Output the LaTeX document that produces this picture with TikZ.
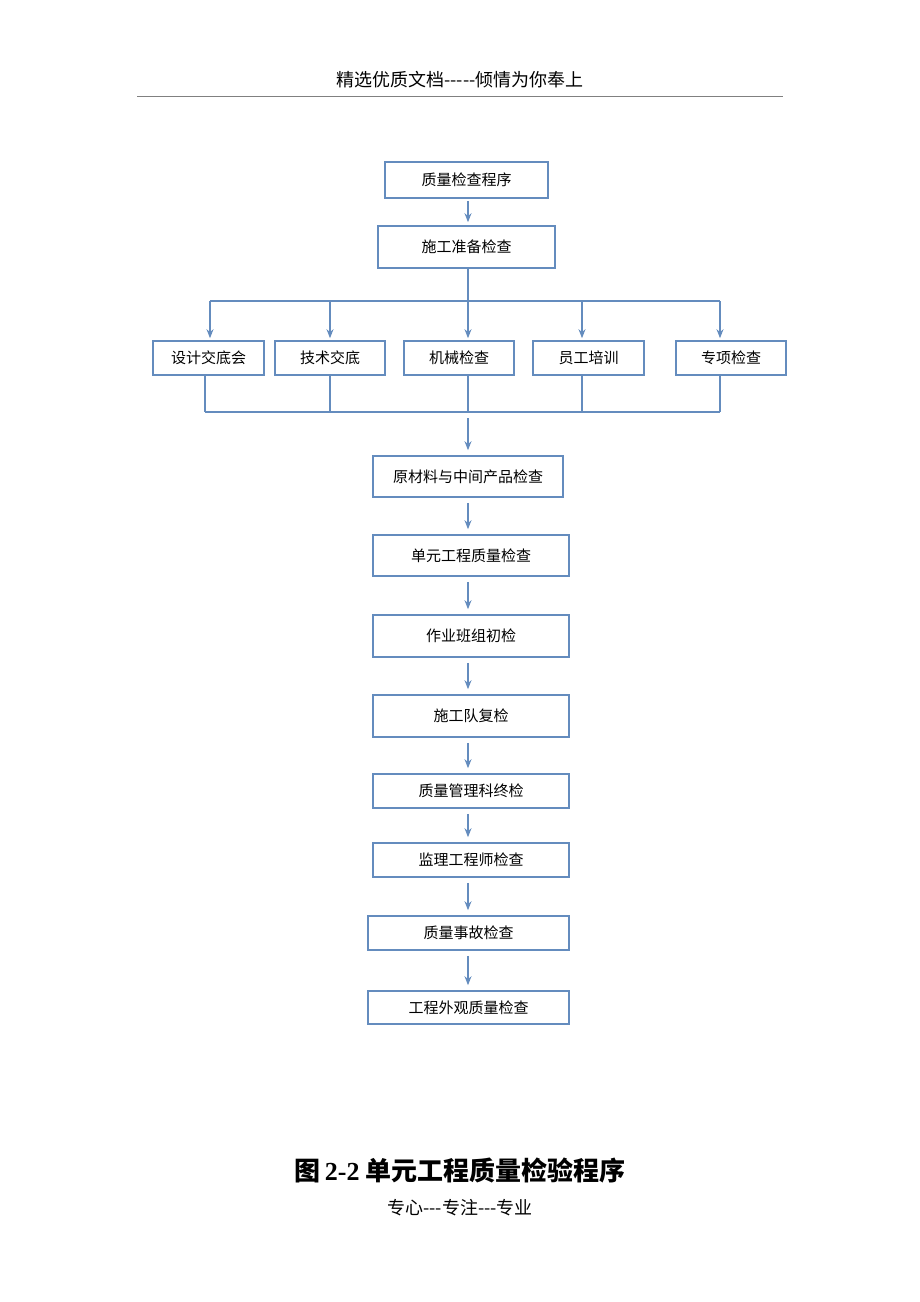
\documentclass[tikz,border=0pt]{standalone}
\usepackage{fontspec}
\setmainfont{Liberation Serif}
\newfontfamily\cjk{Noto Sans CJK SC}
\usetikzlibrary{arrows.meta}
\definecolor{boxblue}{RGB}{100,140,190}

\begin{document}
\begin{tikzpicture}[x=1pt,y=-1pt,>={Stealth[length=9pt,width=7pt]},semithick,
                    font=\cjk\fontsize{15pt}{17}\selectfont]
\tikzset{box/.style={draw=boxblue,line width=1.6pt,inner sep=0pt,text=black},
         link/.style={draw=boxblue,line width=1.6pt},
         flow/.style={link,->}}
\useasboundingbox (0,0) rectangle (920,1302);

        % header
        \node (head) at (460,80) {\fontsize{18pt}{20}\selectfont 精选优质文档-----倾情为你奉上};
        \draw[gray,thin] (137,96) -- (783,96);

        \node[box,minimum width=163pt,minimum height=36pt] (q0) at (466.5,180) {质量检查程序};
        \node[box,minimum width=177pt,minimum height=42pt] (q1) at (466.5,247) {施工准备检查};

        \node[box,minimum width=111pt,minimum height=34pt] (r1) at (208.5,358) {设计交底会};
        \node[box,minimum width=110pt,minimum height=34pt] (r2) at (330,358) {技术交底};
        \node[box,minimum width=110pt,minimum height=34pt] (r3) at (459,358) {机械检查};
        \node[box,minimum width=111pt,minimum height=34pt] (r4) at (588.5,358) {员工培训};
        \node[box,minimum width=110pt,minimum height=34pt] (r5) at (731,358) {专项检查};

        \coordinate (mid) at (468,0);
        \coordinate (top) at (468,301);
        \coordinate (bot) at (468,418);

        \node[box,minimum width=190pt,minimum height=41pt] (s1) at (468,476.5) {原材料与中间产品检查};
        \node[box,minimum width=196pt,minimum height=41pt] (s2) at (471,555.5) {单元工程质量检查};
        \node[box,minimum width=196pt,minimum height=42pt] (s3) at (471,636) {作业班组初检};
        \node[box,minimum width=196pt,minimum height=42pt] (s4) at (471,716) {施工队复检};
        \node[box,minimum width=196pt,minimum height=34pt] (s5) at (471,791) {质量管理科终检};
        \node[box,minimum width=196pt,minimum height=34pt] (s6) at (471,860) {监理工程师检查};
        \node[box,minimum width=201pt,minimum height=34pt] (s7) at (468.5,933) {质量事故检查};
        \node[box,minimum width=201pt,minimum height=33pt] (s8) at (468.5,1007.5) {工程外观质量检查};

        % branches
        \draw[flow] ([yshift=-2pt]q0.south -| mid) -- ([yshift=3pt]q1.north -| mid);
        \draw[link] (q1.south -| mid) -- (top);
        \draw[link] (210,301) -- (720,301);
        \foreach \x/\n in {210/r1,330/r2,468/r3,582/r4,720/r5}{
          \coordinate (tx) at (\x,301);
          \draw[flow] (tx) -- ([yshift=2pt]\n.north -| tx);
        }
        \foreach \x/\n in {205/r1,330/r2,468/r3,582/r4,720/r5}{
          \coordinate (bx) at (\x,412);
          \draw[link] (\n.south -| bx) -- (bx);
        }
        \draw[link] (205,412) -- (720,412);
        \draw[flow] (bot) -- ([yshift=5pt]s1.north -| mid);

        % main chain
        \foreach \a/\b in {s1/s2,s2/s3,s3/s4,s4/s5,s5/s6,s6/s7,s7/s8}
          \draw[flow] ([yshift=-5pt]\a.south -| mid) -- ([yshift=5pt]\b.north -| mid);

        % caption
        \node (cap) at (460,1170) {\bfseries\fontsize{26pt}{28}\selectfont 图\,{\rmfamily 2-2} 单元工程质量检验程序};
        \node (foot) at (460,1208) {\fontsize{18pt}{20}\selectfont 专心---专注---专业};
\end{tikzpicture}
\end{document}
